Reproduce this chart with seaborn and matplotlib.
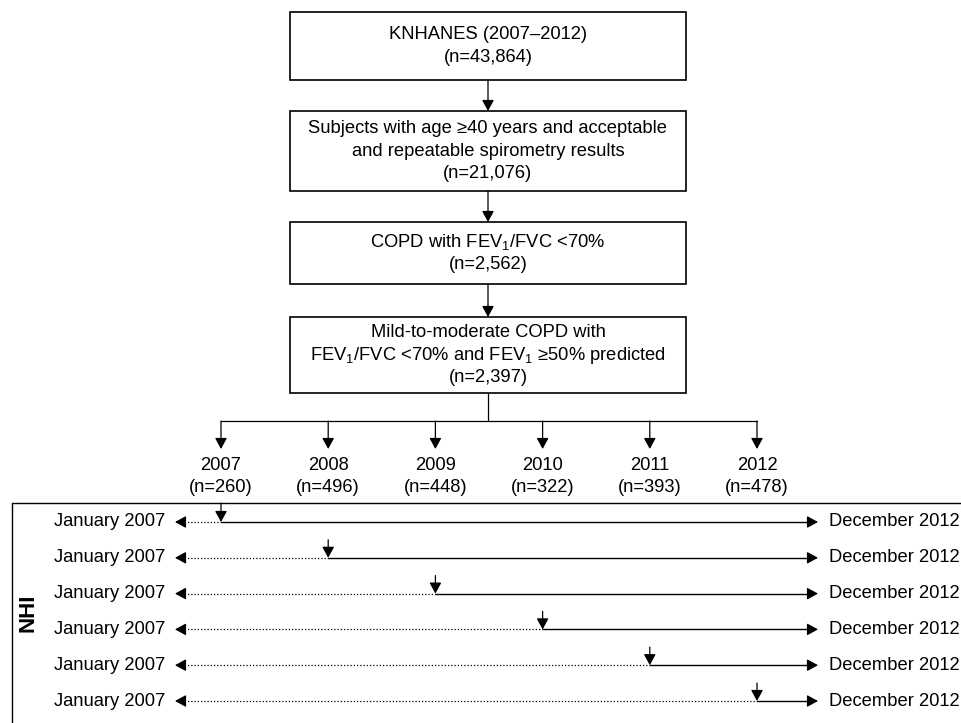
import matplotlib
matplotlib.use("Agg")
import matplotlib.pyplot as plt
import seaborn as sns

# flowchart content
box_lines = [
    ["KNHANES (2007\u20132012)"],
    ["Subjects with age \u226540 years and acceptable", "and repeatable spirometry results"],
    ["COPD with FEV$_1$/FVC <70%"],
    ["Mild-to-moderate COPD with", "FEV$_1$/FVC <70% and FEV$_1$ \u226550% predicted"],
]
box_counts = ["43,864", "21,076", "2,562", "2,397"]
years = [2007, 2008, 2009, 2010, 2011, 2012]
year_counts = [260, 496, 448, 322, 393, 478]
start_label = "January 2007"
end_label = "December 2012"
side_label = "NHI"

sns.set_theme(style="white")
plt.rcParams['font.family'] = ['Liberation Sans', 'DejaVu Sans']
plt.rcParams['mathtext.fontset'] = 'custom'
plt.rcParams['mathtext.rm'] = 'Liberation Sans'
plt.rcParams['mathtext.it'] = 'Liberation Sans:italic'

fig = plt.figure(figsize=(9.62, 7.23), dpi=100)
ax = fig.add_axes([0, 0, 1, 1])
ax.set_xlim(0, 962)
ax.set_ylim(723, 0)
ax.axis("off")

FS = 13.2
K = "black"


def arrow(x0, y0, x1, y1):
    ax.annotate("", xy=(x1, y1), xytext=(x0, y0),
                arrowprops=dict(arrowstyle="-|>,head_length=0.55,head_width=0.3",
                                color=K, lw=0.9, shrinkA=0, shrinkB=0,
                                mutation_scale=12))


# main boxes
bx0, bx1 = 290, 686
cx = (bx0 + bx1) / 2
box_y = [(12, 80), (111, 191), (222, 284), (317, 393)]
line_gap = 22.5
for (y0, y1), lines, cnt in zip(box_y, box_lines, box_counts):
    ax.add_patch(plt.Rectangle((bx0, y0), bx1 - bx0, y1 - y0, fill=False,
                               ec=K, lw=1.2))
    all_lines = lines + [f"(n={cnt})"]
    mid = (y0 + y1) / 2
    start = mid - line_gap * (len(all_lines) - 1) / 2
    for i, t in enumerate(all_lines):
        ax.text(cx, start + i * line_gap, t, ha="center", va="center",
                fontsize=FS, color=K)

for (a, b), (c, d) in zip(box_y[:-1], box_y[1:]):
    arrow(cx, b, cx, c)

# branch to years
year_x = [221 + i * 107.2 for i in range(len(years))]
branch_y = 421
ax.plot([cx, cx], [box_y[-1][1], branch_y], color=K, lw=0.9)
ax.plot([year_x[0], year_x[-1]], [branch_y, branch_y], color=K, lw=0.9)
for x, yr, n in zip(year_x, years, year_counts):
    arrow(x, branch_y, x, 449)
    ax.text(x, 466, str(yr), ha="center", va="center", fontsize=FS, color=K)
    ax.text(x, 488, f"(n={n})", ha="center", va="center", fontsize=FS, color=K)

# NHI panel
top_y = 503
ax.plot([12, 962], [top_y, top_y], color=K, lw=1.0)
ax.plot([12, 12], [top_y, 723], color=K, lw=1.0)
ax.text(28, 613, side_label, rotation=90, ha="center", va="center",
        fontsize=16, fontweight="bold", color=K)

row_y = [522 + i * 35.8 for i in range(len(years))]
left_tip, right_tip = 175, 818
for i, (x, y) in enumerate(zip(year_x, row_y)):
    ax.text(165, y, start_label, ha="right", va="center", fontsize=FS, color=K)
    ax.text(829, y, end_label, ha="left", va="center", fontsize=FS, color=K)
    ax.plot([left_tip + 6, x], [y, y], color=K, lw=0.9, ls=(0, (1, 1.6)))
    arrow(left_tip + 10, y, left_tip, y)
    ax.plot([x, right_tip - 6], [y, y], color=K, lw=1.0)
    arrow(right_tip - 10, y, right_tip, y)
    arrow(x, top_y if i == 0 else y - 18, x, y)

fig.savefig("out.png", dpi=100)
